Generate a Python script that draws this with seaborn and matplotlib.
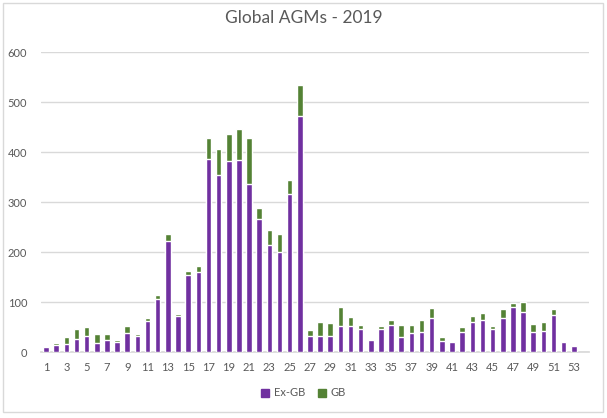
import matplotlib
matplotlib.use("Agg")
import matplotlib.pyplot as plt
from matplotlib.patches import Rectangle, Patch
import pandas as pd
import seaborn as sns

# weekly AGM counts, weeks 1..53
weeks = [str(w) for w in range(1, 54)]
ex_gb = [11, 15, 17, 27, 33, 18, 25, 21, 38, 33,
         63, 106, 222, 73, 154, 161, 387, 354, 383, 384,
         337, 266, 215, 201, 317, 473, 33, 33, 33, 53,
         53, 47, 25, 47, 55, 31, 38, 41, 69, 23,
         21, 41, 61, 65, 47, 69, 91, 81, 41, 43,
         75, 21, 13]
gb = [0, 4, 14, 20, 18, 19, 12, 4, 15, 4,
      6, 9, 15, 4, 9, 12, 42, 53, 54, 63,
      92, 23, 30, 36, 28, 62, 12, 28, 26, 38,
      18, 8, 0, 6, 10, 24, 17, 24, 20, 8,
      0, 10, 12, 14, 6, 18, 8, 20, 16, 18,
      12, 0, 0]

purple = "#7030A0"
green = "#548235"
grey_text = "#595959"
grid_col = "#D9D9D9"

df = pd.DataFrame({"week": weeks, "Ex-GB": ex_gb, "GB": gb})
df["total"] = df["Ex-GB"] + df["GB"]

sns.set_theme(style="white")
plt.rcParams["font.family"] = ["Lato", "DejaVu Sans"]

fig = plt.figure(figsize=(6.07, 4.18), dpi=100)
ax = fig.add_axes([41 / 607, 1 - 352.3 / 418, 548 / 607, 300 / 418])

# stacked bars: total in green underneath, Ex-GB in purple on top
sns.barplot(data=df, x="week", y="total", order=weeks, color=green,
            width=0.55, saturation=1, ax=ax, zorder=2)
sns.barplot(data=df, x="week", y="Ex-GB", order=weeks, color=purple,
            width=0.55, saturation=1, ax=ax, zorder=3)

ax.set_xlim(-0.5, 53.5)
ax.set_ylim(0, 600)
ax.set_yticks(range(0, 601, 100))
ax.yaxis.grid(True, color=grid_col, linewidth=1, zorder=0)
ax.set_axisbelow(True)
ax.set_xticks(range(0, 53, 2))
ax.set_xticklabels(weeks[::2])
ax.tick_params(axis="both", length=0, labelsize=8, colors=grey_text)
ax.tick_params(axis="y", pad=10)
ax.tick_params(axis="x", pad=7)
ax.set_xlabel("")
ax.set_ylabel("")
for s in ["top", "right", "left"]:
    ax.spines[s].set_visible(False)
ax.spines["bottom"].set_color(grid_col)

fig.text(0.5, 1 - 18 / 418, "Global AGMs - 2019", ha="center", va="center",
         fontsize=12.5, color=grey_text)

handles = [Patch(color=purple, label="Ex-GB"), Patch(color=green, label="GB")]
fig.legend(handles=handles, loc="center", bbox_to_anchor=(0.5, 1 - 393 / 418),
           ncol=2, frameon=False, fontsize=8, handlelength=0.7, handleheight=0.7,
           handletextpad=0.4, columnspacing=1.2, labelcolor=grey_text)

# chart border
fig.patches.append(Rectangle((3 / 607, 1 - 412 / 418), 600 / 607, 409 / 418,
                             transform=fig.transFigure, fill=False,
                             edgecolor=grid_col, linewidth=1))

fig.savefig("out.png", dpi=100)
